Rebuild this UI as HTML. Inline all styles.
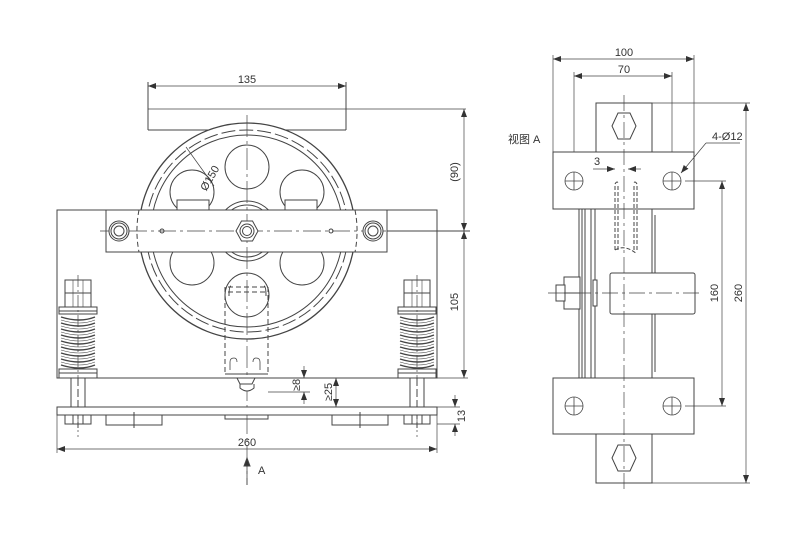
<!DOCTYPE html>
<html><head><meta charset="utf-8"><style>
html,body{margin:0;padding:0;background:#fff;}
svg{display:block;}
text{font-family:"Liberation Sans","Noto Sans CJK SC",sans-serif;fill:#333;font-size:11px;}
</style></head><body>
<svg width="800" height="534" viewBox="0 0 800 534" xmlns="http://www.w3.org/2000/svg">
<defs>
<marker id="ar" markerWidth="8" markerHeight="6" refX="8" refY="3" orient="auto-start-reverse" markerUnits="userSpaceOnUse"><path d="M0,0 L8,3 L0,6 Z" fill="#333"/></marker>
<g id="spring">
<rect x="0" y="-27" width="26" height="13" fill="#fff" stroke="#444"/>
<rect x="0" y="-14" width="26" height="14" fill="#fff" stroke="#444"/>
<line x1="8" y1="-27" x2="8" y2="0" stroke="#444" stroke-width="0.6"/>
<line x1="18" y1="-27" x2="18" y2="0" stroke="#444" stroke-width="0.6"/>
<rect x="-6" y="0" width="38" height="4" fill="#fff" stroke="#444"/>
<rect x="-6" y="4" width="38" height="3" fill="#fff" stroke="#444"/>
<path d="M-4,10 q19,6 34,0 M-4,16 q19,6 34,0 M-4,22 q19,6 34,0 M-4,28 q19,6 34,0 M-4,34 q19,6 34,0 M-4,40 q19,6 34,0 M-4,46 q19,6 34,0 M-4,52 q19,6 34,0 M-4,58 q19,6 34,0" fill="none" stroke="#444" stroke-width="1.4"/>
<path d="M-4,13 q19,6 34,0 M-4,19 q19,6 34,0 M-4,25 q19,6 34,0 M-4,31 q19,6 34,0 M-4,37 q19,6 34,0 M-4,43 q19,6 34,0 M-4,49 q19,6 34,0 M-4,55 q19,6 34,0" fill="none" stroke="#444" stroke-width="0.6"/>
<rect x="-6" y="62" width="38" height="4" fill="#fff" stroke="#444"/>
<rect x="-6" y="66" width="38" height="5" fill="#fff" stroke="#444"/>
<line x1="13" y1="-32" x2="13" y2="130" stroke="#444" stroke-width="0.7" stroke-dasharray="12,3,2,3"/>
</g>
</defs>
<g stroke="#444" fill="none" stroke-width="1">
<line x1="148" y1="82" x2="148" y2="130"/><line x1="346" y1="82" x2="346" y2="130"/>
<line x1="148" y1="109" x2="466" y2="109" stroke-width="0.7"/>
<line x1="148" y1="130" x2="346" y2="130"/>
<line x1="148" y1="86" x2="346" y2="86" marker-start="url(#ar)" marker-end="url(#ar)" stroke-width="0.7"/>
<rect x="57" y="210" width="380" height="168" fill="#fff"/>
<circle cx="247" cy="231" r="108" fill="#fff" stroke-width="1.3"/>
<circle cx="247" cy="231" r="101" stroke-dasharray="14,4" />
<circle cx="247" cy="231" r="96"/>
<line x1="186" y1="147" x2="214" y2="186" stroke-width="0.7"/>
<circle cx="247" cy="167" r="22"/>
<circle cx="247" cy="295" r="22"/>
<circle cx="192" cy="192" r="22"/>
<circle cx="302" cy="192" r="22"/>
<circle cx="192" cy="263" r="22"/>
<circle cx="302" cy="263" r="22"/>
<circle cx="247" cy="231" r="30" fill="#fff"/>
<circle cx="247" cy="231" r="26"/>
<rect x="177" y="200" width="32" height="10" fill="#fff"/>
<rect x="285" y="200" width="32" height="10" fill="#fff"/>
<rect x="106" y="210" width="281" height="42" fill="#fff"/>
<path d="M139,210 A108,108 0 0 0 139,252 M355,210 A108,108 0 0 1 355,252" stroke-dasharray="5,3"/>
<line x1="100" y1="231" x2="470" y2="231" stroke-width="0.7" stroke-dasharray="18,4,3,4"/>
<line x1="247" y1="115" x2="247" y2="485" stroke-width="0.7" stroke-dasharray="22,4,3,4"/>
<circle cx="119" cy="231" r="10" fill="#fff"/><circle cx="119" cy="231" r="8"/><circle cx="119" cy="231" r="5"/>
<circle cx="373" cy="231" r="10" fill="#fff"/><circle cx="373" cy="231" r="8"/><circle cx="373" cy="231" r="5"/>
<circle cx="162" cy="231" r="2"/><circle cx="331" cy="231" r="2"/>
<polygon points="236,231 241.5,221 252.5,221 258,231 252.5,241 241.5,241" fill="#fff"/>
<circle cx="247" cy="231" r="7"/><circle cx="247" cy="231" r="4.5"/>
<line x1="387" y1="231" x2="470" y2="231"/>
<path d="M225,287 V374 M268,287 V374 M228,287 H266 M228,292 H266" stroke-dasharray="5,3"/>
<path d="M229,296 q0,-10 2,-10 M266,296 q0,-10 -2,-10"/>
<path d="M230,370 v-8 q0,-4 4,-4 q3,0 3,4 M260,370 v-8 q0,-4 -4,-4 q-3,0 -3,4" stroke-width="0.8"/>
<line x1="225" y1="374" x2="268" y2="374"/>
<path d="M237,378 h18 l-3,6 h-12 z M240,384 v4 q7,6 14,0 v-4" fill="#fff"/>
<use href="#spring" x="65" y="307"/>
<use href="#spring" x="404" y="307"/>
<rect x="71" y="378" width="14" height="29" fill="#fff"/>
<rect x="410" y="378" width="14" height="29" fill="#fff"/>
<line x1="78" y1="378" x2="78" y2="428" stroke-dasharray="8,3"/>
<line x1="417" y1="378" x2="417" y2="428" stroke-dasharray="8,3"/>
<rect x="57" y="407" width="380" height="8" fill="#fff"/>
<rect x="65" y="415" width="26" height="9"/><line x1="73" y1="415" x2="73" y2="424"/><line x1="83" y1="415" x2="83" y2="424"/>
<rect x="404" y="415" width="26" height="9"/><line x1="412" y1="415" x2="412" y2="424"/><line x1="422" y1="415" x2="422" y2="424"/>
<rect x="106" y="415" width="56" height="10"/><line x1="134" y1="412" x2="134" y2="428"/>
<rect x="332" y="415" width="56" height="10"/><line x1="360" y1="412" x2="360" y2="428"/>
<rect x="225" y="415" width="43" height="4"/>
<line x1="57" y1="415" x2="57" y2="453" stroke-width="0.7"/><line x1="437" y1="415" x2="437" y2="453" stroke-width="0.7"/>
<line x1="57" y1="449" x2="437" y2="449" marker-start="url(#ar)" marker-end="url(#ar)" stroke-width="0.7"/>
<line x1="437" y1="378" x2="468" y2="378" stroke-width="0.7"/>
<line x1="464" y1="109" x2="464" y2="231" marker-start="url(#ar)" marker-end="url(#ar)" stroke-width="0.7"/>
<line x1="464" y1="231" x2="464" y2="378" marker-start="url(#ar)" marker-end="url(#ar)" stroke-width="0.7"/>
<line x1="437" y1="407" x2="460" y2="407" stroke-width="0.7"/><line x1="437" y1="424" x2="460" y2="424" stroke-width="0.7"/>
<line x1="455" y1="395" x2="455" y2="407" marker-end="url(#ar)" stroke-width="0.7"/>
<line x1="455" y1="436" x2="455" y2="424" marker-end="url(#ar)" stroke-width="0.7"/>
<line x1="268" y1="392" x2="310" y2="392" stroke-width="0.7"/>
<line x1="304" y1="366" x2="304" y2="378" marker-end="url(#ar)" stroke-width="0.7"/>
<line x1="304" y1="404" x2="304" y2="392" marker-end="url(#ar)" stroke-width="0.7"/>
<line x1="336" y1="378" x2="336" y2="407" marker-start="url(#ar)" marker-end="url(#ar)" stroke-width="0.7"/>
<line x1="247" y1="463" x2="247" y2="485" stroke-width="0.8"/>
<path d="M244,466 L247,458 L250,466 Z" fill="#333"/>

<line x1="553" y1="55" x2="553" y2="152" stroke-width="0.7"/><line x1="694" y1="55" x2="694" y2="152" stroke-width="0.7"/>
<line x1="553" y1="59" x2="694" y2="59" marker-start="url(#ar)" marker-end="url(#ar)" stroke-width="0.7"/>
<line x1="574" y1="72" x2="574" y2="190" stroke-width="0.7"/><line x1="672" y1="72" x2="672" y2="190" stroke-width="0.7"/>
<line x1="574" y1="76" x2="672" y2="76" marker-start="url(#ar)" marker-end="url(#ar)" stroke-width="0.7"/>
<path d="M579,209 V378 M582,209 V378 M585,209 V378 M591,209 V378 M595,209 V378 M652,209 V378 M655,215 V372"/>
<rect x="596" y="103" width="56" height="49" fill="#fff"/>
<polygon points="612,126 618,113 630,113 636,126 630,139 618,139" fill="#fff"/>
<rect x="596" y="434" width="56" height="49" fill="#fff"/>
<polygon points="612,458 618,445 630,445 636,458 630,471 618,471" fill="#fff"/>
<rect x="553" y="152" width="141" height="57" fill="#fff"/>
<rect x="553" y="378" width="141" height="56" fill="#fff"/>
<g stroke-width="0.8">
<circle cx="574" cy="181" r="9"/><line x1="565" y1="181" x2="583" y2="181"/><line x1="574" y1="172" x2="574" y2="190"/>
<circle cx="672" cy="181" r="9"/><line x1="663" y1="181" x2="681" y2="181"/><line x1="672" y1="172" x2="672" y2="190"/>
<circle cx="574" cy="406" r="9"/><line x1="565" y1="406" x2="583" y2="406"/><line x1="574" y1="397" x2="574" y2="415"/>
<circle cx="672" cy="406" r="9"/><line x1="663" y1="406" x2="681" y2="406"/><line x1="672" y1="397" x2="672" y2="415"/>
</g>
<path d="M615,250 V184 q2,-4 4,0 M618,250 V186 M637,250 V184 q-2,-4 -4,0 M634,250 V186 M615,250 q10,-6 22,4" stroke-dasharray="4,2"/>
<rect x="610" y="273" width="85" height="41" rx="2" fill="#fff"/>
<rect x="593" y="280" width="4" height="26" fill="#fff"/>
<rect x="564" y="277" width="16" height="32" fill="#fff"/>
<rect x="556" y="285" width="9" height="16" fill="#fff"/>
<line x1="564" y1="293" x2="580" y2="293"/>
<line x1="548" y1="293" x2="700" y2="293" stroke-width="0.7" stroke-dasharray="16,4,3,4"/>
<line x1="624" y1="95" x2="624" y2="490" stroke-width="0.7" stroke-dasharray="16,4,3,4"/>
<line x1="652" y1="103" x2="750" y2="103" stroke-width="0.7"/>
<line x1="652" y1="483" x2="750" y2="483" stroke-width="0.7"/>
<line x1="746" y1="103" x2="746" y2="483" marker-start="url(#ar)" marker-end="url(#ar)" stroke-width="0.7"/>
<line x1="685" y1="181" x2="726" y2="181" stroke-width="0.7"/>
<line x1="685" y1="406" x2="726" y2="406" stroke-width="0.7"/>
<line x1="722" y1="181" x2="722" y2="406" marker-start="url(#ar)" marker-end="url(#ar)" stroke-width="0.7"/>
<line x1="740" y1="143" x2="706" y2="143" stroke-width="0.7"/>
<line x1="706" y1="143" x2="681" y2="173" marker-end="url(#ar)" stroke-width="0.7"/>
<line x1="593" y1="169" x2="615" y2="169" marker-end="url(#ar)" stroke-width="0.7"/>
<line x1="641" y1="169" x2="628" y2="169" marker-end="url(#ar)" stroke-width="0.7"/>
</g>
<text x="247" y="83" text-anchor="middle">135</text>
<text x="213" y="180" transform="rotate(-60 213 180)" text-anchor="middle">Ø150</text>
<text x="247" y="446" text-anchor="middle">260</text>
<text x="258" y="474">A</text>
<text x="458" y="172" transform="rotate(-90 458 172)" text-anchor="middle">(90)</text>
<text x="458" y="302" transform="rotate(-90 458 302)" text-anchor="middle">105</text>
<text x="465" y="416" transform="rotate(-90 465 416)" text-anchor="middle">13</text>
<text x="300" y="385" transform="rotate(-90 300 385)" text-anchor="middle">≥8</text>
<text x="332" y="392" transform="rotate(-90 332 392)" text-anchor="middle">≥25</text>
<text x="624" y="56" text-anchor="middle">100</text>
<text x="624" y="73" text-anchor="middle">70</text>
<text x="597" y="165" text-anchor="middle">3</text>
<text x="508" y="143" font-size="12">视图 A</text>
<text x="712" y="140">4-Ø12</text>
<text x="718" y="293" transform="rotate(-90 718 293)" text-anchor="middle">160</text>
<text x="742" y="293" transform="rotate(-90 742 293)" text-anchor="middle">260</text>
</svg>
</body></html>
